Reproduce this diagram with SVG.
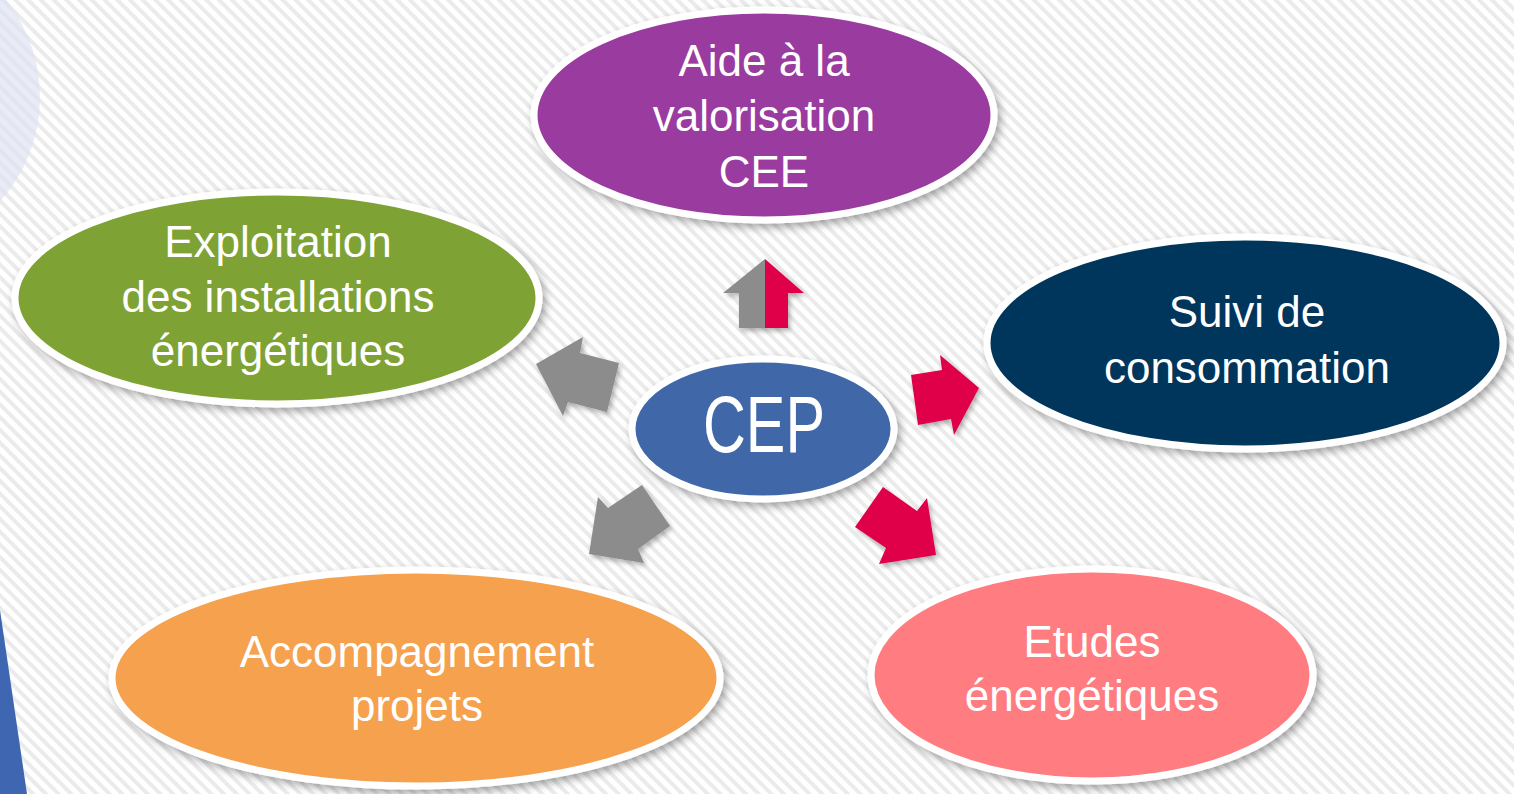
<svg xmlns="http://www.w3.org/2000/svg" width="1514" height="794" viewBox="0 0 1514 794">
  <defs>
    <pattern id="stripes" width="9" height="9" patternUnits="userSpaceOnUse" patternTransform="rotate(-45)">
      <rect width="9" height="9" fill="#ffffff"/>
      <rect width="4" height="9" fill="#ebebeb"/>
    </pattern>
    <filter id="shadow" x="-10%" y="-10%" width="125%" height="130%">
      <feDropShadow dx="3" dy="4" stdDeviation="4" flood-color="#000" flood-opacity="0.35"/>
    </filter>
    <filter id="ashadow" x="-20%" y="-20%" width="150%" height="150%">
      <feDropShadow dx="2" dy="3" stdDeviation="2.5" flood-color="#000" flood-opacity="0.3"/>
    </filter>
  </defs>
  <style>
    .node { stroke: #ffffff; stroke-width: 7; filter: url(#shadow); }
    .lbl { font-family: "Liberation Sans", Arial, sans-serif; font-size: 44px; fill: #ffffff; text-anchor: middle; }
    .grey { fill: #8c8c8c; }
    .red { fill: #e0004a; }
  </style>

  <rect width="1514" height="794" fill="url(#stripes)"/>
  <circle cx="-116" cy="97" r="156" fill="#dde0f3" opacity="0.65"/>
  <polygon points="0,610 27,794 0,794" fill="#3f67b1"/>

  <g id="connectors" filter="url(#ashadow)">
    <g id="arrow-up">
      <polygon class="grey" points="765,259 765,328 739,328 739,293 723,293"/>
      <polygon class="red" points="765,259 804,293 788,293 788,328 765,328"/>
    </g>
    <polygon id="arrow-left" class="grey" points="536,364 583,337 580,353 619,363 607,412 568,402 563,416"/>
    <polygon id="arrow-right" class="red" points="979,388 940,355 942,370 911,375 918,425 951,419 954,435"/>
    <polygon id="arrow-downright" class="red" points="883,487 917,511 927,498 936,555 879,564 886,548 855,527"/>
    <polygon id="arrow-downleft" class="grey" points="642,485 670,526 638,549 644,563 589,554 598,497 608,508"/>
  </g>

  <g id="node-cee">
    <ellipse class="node" cx="764" cy="115" rx="230" ry="105" fill="#9a3ba0"/>
    <text class="lbl" x="764" y="76">Aide à la</text>
    <text class="lbl" x="764" y="131">valorisation</text>
    <text class="lbl" x="764" y="187">CEE</text>
  </g>

  <g id="node-exploitation">
    <ellipse class="node" cx="277" cy="298" rx="262" ry="106" fill="#7fa234"/>
    <text class="lbl" x="278" y="257">Exploitation</text>
    <text class="lbl" x="278" y="312">des installations</text>
    <text class="lbl" x="278" y="366">énergétiques</text>
  </g>

  <g id="node-suivi">
    <ellipse class="node" cx="1245" cy="343" rx="258" ry="106" fill="#00365c"/>
    <text class="lbl" x="1247" y="327">Suivi de</text>
    <text class="lbl" x="1247" y="383">consommation</text>
  </g>

  <g id="node-etudes">
    <ellipse class="node" cx="1092" cy="675" rx="221" ry="106" fill="#ff7c80"/>
    <text class="lbl" x="1092" y="657">Etudes</text>
    <text class="lbl" x="1092" y="711">énergétiques</text>
  </g>

  <g id="node-accompagnement">
    <ellipse class="node" cx="416" cy="678" rx="304" ry="108" fill="#f5a14e"/>
    <text class="lbl" x="417" y="667">Accompagnement</text>
    <text class="lbl" x="417" y="721">projets</text>
  </g>

  <g id="node-cep">
    <ellipse class="node" cx="763" cy="429" rx="131" ry="70" fill="#3f67a9"/>
    <text class="lbl" x="764" y="452" style="font-size:80px" textLength="122" lengthAdjust="spacingAndGlyphs">CEP</text>
  </g>
</svg>
